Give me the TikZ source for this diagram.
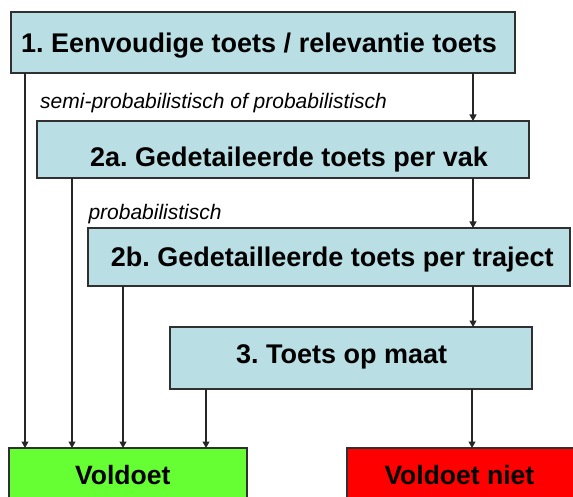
\documentclass[tikz,border=0pt]{standalone}
\usepackage{fontspec}
\setmainfont{Liberation Sans}
\usetikzlibrary{arrows.meta}
\definecolor{boxblue}{HTML}{B9DFE4}
\definecolor{okgreen}{HTML}{66FF33}
\definecolor{nokred}{HTML}{FF0000}
\definecolor{edgegray}{HTML}{303030}
\frenchspacing
\begin{document}
\begin{tikzpicture}[x=1pt,y=-1pt,
  box/.style={draw=edgegray,line width=1.1pt,inner sep=0pt,outer sep=0pt,anchor=north west},
  boxtext/.style={anchor=base west,inner sep=0pt,font=\bfseries\fontsize{27}{30}\selectfont},
  endtext/.style={anchor=base west,inner sep=0pt,font=\bfseries\fontsize{26.5}{30}\selectfont},
  note/.style={anchor=base west,inner sep=0pt,font=\itshape\fontsize{21}{24}\selectfont},
  conn/.style={line width=1.2pt,draw=black!85,-{Triangle[width=7pt,length=6.5pt]}}]
\useasboundingbox (0,0) rectangle (573,497);
% boxes
\node[box,fill=boxblue,minimum width=504pt,minimum height=61pt] (b1) at (11,12) {};
\node[box,fill=boxblue,minimum width=492pt,minimum height=57pt] (b2a) at (37,121) {};
\node[box,fill=boxblue,minimum width=482pt,minimum height=58pt] (b2b) at (88,228) {};
\node[box,fill=boxblue,minimum width=362pt,minimum height=62pt] (b3) at (170,327) {};
\node[box,fill=okgreen,minimum width=238pt,minimum height=60pt] (v) at (9,448) {};
\node[box,fill=nokred,minimum width=240pt,minimum height=60pt] (vn) at (347,448) {};
% texts
\node[boxtext] (t1) at (21,52.3) {1. Eenvoudige toets / relevantie toets};
\node[boxtext] (t2a) at (90,167) {2a. Gedetaileerde toets per vak};
\node[boxtext] (t2b) at (110.7,266) {2b. Gedetailleerde toets per traject};
\node[boxtext] (t3) at (236,363.3) {3. Toets op maat};
\node[endtext] (tv) at (75,484) {Voldoet};
\node[endtext] (tvn) at (384.3,484) {Voldoet niet};
\node[note] (n1) at (40,109) {semi-probabilistisch of probabilistisch};
\node[note] (n2) at (88.3,220) {probabilistisch};
% connectors
\draw[conn] (25,0 |- b1.south) -- (25,0 |- v.north);
\draw[conn] (473,0 |- b1.south) -- (473,0 |- b2a.north);
\draw[conn] (72,0 |- b2a.south) -- (72,0 |- v.north);
\draw[conn] (473,0 |- b2a.south) -- (473,0 |- b2b.north);
\draw[conn] (123,0 |- b2b.south) -- (123,0 |- v.north);
\draw[conn] (473,0 |- b2b.south) -- (473,0 |- b3.north);
\draw[conn] (206,0 |- b3.south) -- (206,0 |- v.north);
\draw[conn] (472,0 |- b3.south) -- (472,0 |- vn.north);
\end{tikzpicture}
\end{document}
